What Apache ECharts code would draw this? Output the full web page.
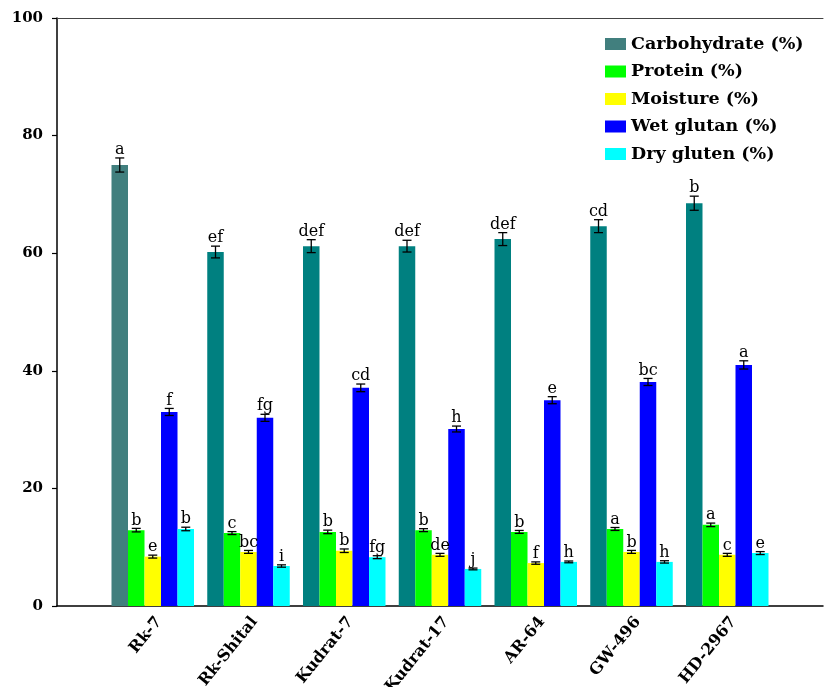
<!DOCTYPE html>
<html>
<head>
<meta charset="utf-8">
<script src="https://cdn.jsdelivr.net/npm/echarts@6/dist/echarts.min.js"></script>
<style>
  html, body { margin: 0; padding: 0; background: #fff; }
  #chart { width: 824px; height: 687px; }
</style>
</head>
<body>
<div id="chart"></div>
<script>
// Wheat cultivars
const cultivars = ['Rk-7', 'Rk-Shital', 'Kudrat-7', 'Kudrat-17', 'AR-64', 'GW-496', 'HD-2967'];

// Mean values (%)
const carbohydrate = [75.0, 60.2, 61.2, 61.2, 62.4, 64.6, 68.5];
const protein      = [12.9, 12.4, 12.6, 12.9, 12.6, 13.1, 13.8];
const moisture     = [8.4, 9.2, 9.4, 8.7, 7.3, 9.2, 8.7];
const wetGlutan    = [33.0, 32.0, 37.1, 30.1, 35.0, 38.1, 41.0];
const dryGluten    = [13.1, 6.8, 8.3, 6.3, 7.5, 7.5, 9.0];

// Standard errors
const carbohydrateErr = [1.2, 1.0, 1.1, 1.0, 1.1, 1.1, 1.2];
const proteinErr      = [0.3, 0.25, 0.3, 0.25, 0.25, 0.25, 0.3];
const moistureErr     = [0.25, 0.25, 0.3, 0.25, 0.2, 0.25, 0.25];
const wetGlutanErr    = [0.6, 0.6, 0.65, 0.5, 0.6, 0.6, 0.7];
const dryGlutenErr    = [0.3, 0.2, 0.25, 0.15, 0.15, 0.2, 0.25];

// Significance letters
const carbohydrateSig = ['a', 'ef', 'def', 'def', 'def', 'cd', 'b'];
const proteinSig      = ['b', 'c', 'b', 'b', 'b', 'a', 'a'];
const moistureSig     = ['e', 'bc', 'b', 'de', 'f', 'b', 'c'];
const wetGlutanSig    = ['f', 'fg', 'cd', 'h', 'e', 'bc', 'a'];
const dryGlutenSig    = ['b', 'i', 'fg', 'j', 'h', 'h', 'e'];

const seriesNames = ['Carbohydrate (%)', 'Protein (%)', 'Moisture (%)', 'Wet glutan (%)', 'Dry gluten (%)'];
const seriesValues = [carbohydrate, protein, moisture, wetGlutan, dryGluten];
const seriesErrs = [carbohydrateErr, proteinErr, moistureErr, wetGlutanErr, dryGlutenErr];
const seriesSig = [carbohydrateSig, proteinSig, moistureSig, wetGlutanSig, dryGlutenSig];
const seriesColors = ['#417F7E', '#00FF00', '#FFFF00', '#0000FF', '#00FFFF'];
const tealColor = '#008080';

const yTicks = [0, 20, 40, 60, 80, 100];

const BAR_W = 16.5;
const SERIF = '"DejaVu Serif", "Liberation Serif", serif';

// Empty slots at both ends of the category axis
const axisCats = [''].concat(cultivars, ['']);

const barSeries = seriesValues.map((vals, s) => ({
  name: seriesNames[s],
  type: 'bar',
  barWidth: BAR_W,
  barGap: '0%',
  itemStyle: { color: seriesColors[s] },
  data: ['-'].concat(vals.map((v, i) => {
    if (s === 0 && i > 0) return { value: v, itemStyle: { color: tealColor } };
    return v;
  }), ['-']),
  z: 2
}));

// Error bars and letters: [categoryIndex, seriesIndex, value, err, letter]
const errData = [];
seriesValues.forEach((vals, s) => {
  vals.forEach((v, i) => {
    errData.push([i + 1, s, v, seriesErrs[s][i], seriesSig[s][i]]);
  });
});

const errSeries = {
  type: 'custom',
  name: 'err',
  data: errData,
  z: 5,
  encode: { x: 0, y: 2 },
  renderItem: function (params, api) {
    const cat = api.value(0);
    const s = api.value(1);
    const v = api.value(2);
    const e = api.value(3);
    const letter = errData[params.dataIndex][4];
    const c = api.coord([cat, v]);
    const x = c[0] + (s - 2) * BAR_W;
    const yHi = api.coord([cat, v + e])[1];
    const yLo = api.coord([cat, v - e])[1];
    const cap = 4.5;
    const st = { stroke: '#000', lineWidth: 1.3 };
    return {
      type: 'group',
      children: [
        { type: 'line', shape: { x1: x, y1: yHi, x2: x, y2: yLo }, style: st },
        { type: 'line', shape: { x1: x - cap, y1: yHi, x2: x + cap, y2: yHi }, style: st },
        { type: 'line', shape: { x1: x - cap, y1: yLo, x2: x + cap, y2: yLo }, style: st },
        {
          type: 'text',
          x: x,
          y: yHi,
          style: {
            text: letter,
            fill: '#000',
            font: '16px ' + SERIF,
            align: 'center',
            verticalAlign: 'bottom'
          }
        }
      ]
    };
  }
};

const chart = echarts.init(document.getElementById('chart'));
chart.setOption({
  animation: false,
  backgroundColor: '#fff',
  grid: { left: 57, right: 1, top: 18, bottom: 81, containLabel: false, outerBoundsMode: 'none' },
  legend: {
    data: seriesNames,
    orient: 'vertical',
    left: 605,
    top: 35,
    padding: 0,
    itemWidth: 21,
    itemHeight: 12,
    itemGap: 9.5,
    icon: 'rect',
    textStyle: { fontFamily: SERIF, fontWeight: 'bold', fontSize: 17.5, lineHeight: 17, color: '#000' }
  },
  xAxis: [{
    type: 'category',
    data: axisCats,
    boundaryGap: false,
    axisLine: { lineStyle: { color: '#000', width: 1.5 } },
    axisTick: { show: false },
    axisLabel: {
      interval: 0,
      rotate: 51,
      margin: 8,
      align: 'right',
      verticalAlign: 'top',
      fontFamily: SERIF,
      fontWeight: 'bold',
      fontSize: 16,
      color: '#000'
    },
    splitLine: { show: false }
  }, {
    type: 'category',
    position: 'top',
    data: axisCats,
    boundaryGap: false,
    axisLine: { lineStyle: { color: '#444', width: 1 } },
    axisTick: { show: false },
    axisLabel: { show: false },
    splitLine: { show: false }
  }],
  yAxis: {
    type: 'value',
    min: yTicks[0],
    max: yTicks[yTicks.length - 1],
    interval: 20,
    axisLine: { show: true, lineStyle: { color: '#000', width: 1.5 } },
    axisTick: { show: true, inside: false, length: 5, lineStyle: { color: '#000', width: 1.2 } },
    axisLabel: {
      margin: 14,
      fontFamily: SERIF,
      fontWeight: 'bold',
      fontSize: 15,
      color: '#000'
    },
    splitLine: { show: false }
  },
  series: barSeries.concat([errSeries])
});
</script>
</body>
</html>
